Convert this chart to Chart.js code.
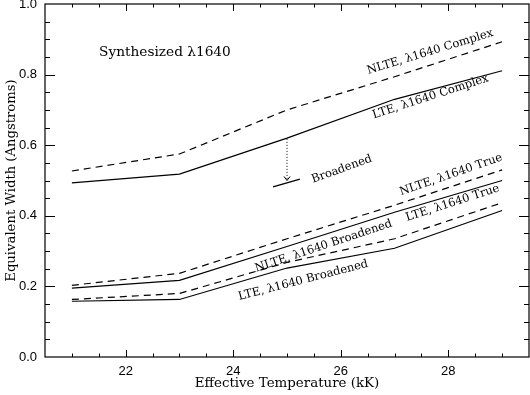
<!DOCTYPE html>
<html>
<head>
<meta charset="utf-8">
<script src="https://cdn.jsdelivr.net/npm/chart.js@4.4.0/dist/chart.umd.min.js"></script>
<style>
  html, body { margin: 0; padding: 0; background: #fff; }
  #wrap { width: 530px; height: 395px; }
</style>
</head>
<body>
<div id="wrap"><canvas id="ewChart"></canvas></div>
<script>
// temperaturas de los modelos (kK)
const temps = [21, 23, 25, 27, 29];

// anchos equivalentes (Angstroms)
const nlteComplex = [0.527, 0.575, 0.700, 0.794, 0.893];
const lteComplex  = [0.493, 0.518, 0.620, 0.730, 0.811];
const nlteTrue    = [0.203, 0.237, 0.335, 0.430, 0.530];
const lteTrue     = [0.195, 0.217, 0.313, 0.410, 0.500];
const nlteBroad   = [0.163, 0.180, 0.268, 0.335, 0.437];
const lteBroad    = [0.158, 0.163, 0.252, 0.308, 0.415];

// flecha "Broadened" y segmento marcador
const arrowX = [25, 25];
const arrowY = [0.618, 0.500];
const markX = [24.74, 25.24];
const markY = [0.482, 0.504];

// ticks
const xTicks = [22, 24, 26, 28];
const yTicks = [0.0, 0.2, 0.4, 0.6, 0.8, 1.0];

// textos sobre las curvas: [texto, x, y, ángulo]
const lineLabels = [
  ["NLTE, \u03bb1640 Complex", 27.66, 0.864, -17],
  ["LTE, \u03bb1640 Complex", 27.67, 0.737, -18],
  ["Broadened", 26.02, 0.532, -20],
  ["NLTE, \u03bb1640 True", 28.05, 0.516, -19],
  ["LTE, \u03bb1640 True", 28.08, 0.436, -18],
  ["NLTE, \u03bb1640 Broadened", 25.68, 0.314, -18.5],
  ["LTE, \u03bb1640 Broadened", 25.30, 0.217, -14.5]
];
const plotTitle = ["Synthesized \u03bb1640", 22.73, 0.862];

const serif = "'DejaVu Serif', 'Liberation Serif', serif";
const sans = "'Liberation Sans', Arial, sans-serif";

const pts = (xs, ys) => xs.map((x, i) => ({ x: x, y: ys[i] }));
const line = (xs, ys, dashed) => ({
  data: pts(xs, ys),
  borderColor: "#000",
  borderWidth: 1.2,
  borderDash: dashed ? [7, 5] : [],
  pointRadius: 0,
  fill: false,
  tension: 0
});

// marco, ticks internos (estilo IDL) y textos
const framePlugin = {
  id: "frame",
  afterDraw(chart) {
    const { ctx, chartArea: a, scales: { x, y } } = chart;
    ctx.save();
    ctx.strokeStyle = "#000";
    ctx.lineWidth = 1.2;
    ctx.strokeRect(a.left, a.top, a.right - a.left, a.bottom - a.top);

    ctx.lineWidth = 1;
    ctx.beginPath();
    for (let v = x.min + 0.5; v < x.max; v += 0.5) {
      const px = Math.round(x.getPixelForValue(v)) + 0.5;
      const len = xTicks.includes(Math.round(v * 10) / 10) ? 7 : 3.5;
      ctx.moveTo(px, a.bottom); ctx.lineTo(px, a.bottom - len);
      ctx.moveTo(px, a.top); ctx.lineTo(px, a.top + len);
    }
    for (let v = 0.05; v < y.max - 0.001; v += 0.05) {
      const py = Math.round(y.getPixelForValue(v)) + 0.5;
      const major = Math.abs(v * 5 - Math.round(v * 5)) < 0.01;
      const len = major ? 10 : 5;
      ctx.moveTo(a.left, py); ctx.lineTo(a.left + len, py);
      ctx.moveTo(a.right, py); ctx.lineTo(a.right - len, py);
    }
    ctx.stroke();

    // punta de flecha
    const ax = x.getPixelForValue(arrowX[1]);
    const ay = y.getPixelForValue(arrowY[1]);
    ctx.beginPath();
    ctx.moveTo(ax - 3, ay - 4); ctx.lineTo(ax, ay); ctx.lineTo(ax + 3, ay - 4);
    ctx.stroke();

    ctx.fillStyle = "#000";
    ctx.textAlign = "center";
    ctx.textBaseline = "middle";
    ctx.font = "13.7px " + serif;
    ctx.fillText(plotTitle[0], x.getPixelForValue(plotTitle[1]), y.getPixelForValue(plotTitle[2]));

    ctx.font = "11.5px " + serif;
    lineLabels.forEach(([t, lx, ly, ang]) => {
      ctx.save();
      ctx.translate(x.getPixelForValue(lx), y.getPixelForValue(ly));
      ctx.rotate(ang * Math.PI / 180);
      ctx.fillText(t, 0, 0);
      ctx.restore();
    });
    ctx.restore();
  }
};

new Chart(document.getElementById("ewChart"), {
  type: "line",
  data: {
    datasets: [
      line(temps, nlteComplex, true),
      line(temps, lteComplex, false),
      line(temps, nlteTrue, true),
      line(temps, lteTrue, false),
      line(temps, nlteBroad, true),
      line(temps, lteBroad, false),
      Object.assign(line(arrowX, arrowY, false), { borderDash: [1, 2], borderWidth: 1 }),
      line(markX, markY, false)
    ]
  },
  options: {
    responsive: true,
    maintainAspectRatio: false,
    animation: false,
    layout: { padding: { top: 4, right: 1, left: 0, bottom: 0 } },
    plugins: { legend: { display: false }, tooltip: { enabled: false } },
    scales: {
      x: {
        type: "linear",
        min: 20.5,
        max: 29.5,
        afterBuildTicks: s => { s.ticks = xTicks.map(v => ({ value: v })); },
        afterFit: s => { s.height = 38; s.paddingLeft = 0; s.paddingRight = 0; },
        grid: { display: false, drawTicks: false },
        border: { display: false },
        ticks: { color: "#000", font: { family: sans, size: 13 }, padding: 7, maxRotation: 0, autoSkip: false },
        title: {
          display: true,
          text: "Effective Temperature (kK)",
          color: "#000",
          font: { family: serif, size: 13.4 },
          padding: { top: 0, bottom: 3 }
        }
      },
      y: {
        type: "linear",
        min: 0,
        max: 1,
        afterBuildTicks: s => { s.ticks = yTicks.map(v => ({ value: v })); },
        afterFit: s => { s.width = 45; s.paddingTop = 0; s.paddingBottom = 0; },
        grid: { display: false, drawTicks: false },
        border: { display: false },
        ticks: { color: "#000", font: { family: sans, size: 13 }, padding: 8, autoSkip: false, callback: v => v.toFixed(1) },
        title: {
          display: true,
          text: "Equivalent Width (Angstroms)",
          color: "#000",
          font: { family: serif, size: 13.2 },
          padding: { top: 4, bottom: 0 }
        }
      }
    }
  },
  plugins: [framePlugin]
});
</script>
</body>
</html>
